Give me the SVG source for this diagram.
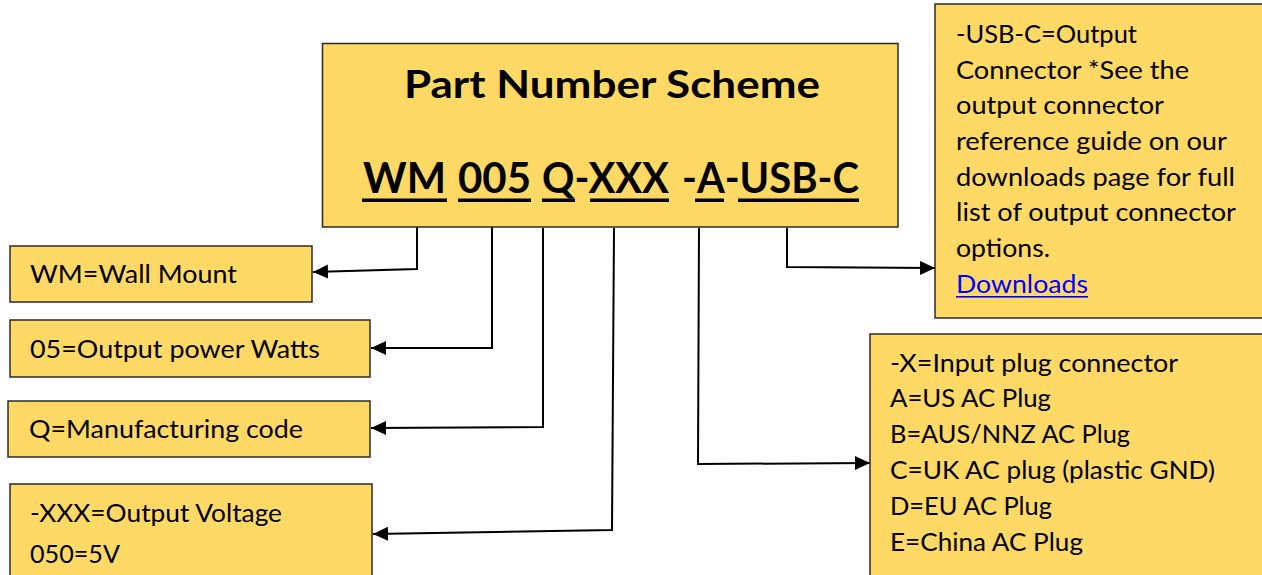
<svg xmlns="http://www.w3.org/2000/svg" width="1262" height="575" viewBox="0 0 1262 575">
<style>
.box{fill:#FFD966;stroke:#2b2b2b;stroke-width:1.5}
.t{font-family:Lato,"Liberation Sans",sans-serif;font-size:25px;fill:#000}
.h{font-family:Lato,"Liberation Sans",sans-serif;font-weight:bold;fill:#000}
.ul{fill:#000}
.conn{fill:none;stroke:#000;stroke-width:2}
</style>
<defs>
<marker id="ah" markerUnits="userSpaceOnUse" markerWidth="16" markerHeight="16" refX="15" refY="7" orient="auto">
<path d="M0,0 L15,7 L0,14 Z" fill="#000"/>
</marker>
</defs>
<rect width="1262" height="575" fill="#fff"/>
<g id="connectors">
<polyline class="conn" points="417,227 417,269 313,272" marker-end="url(#ah)"/>
<polyline class="conn" points="492,227 492,348 371,348" marker-end="url(#ah)"/>
<polyline class="conn" points="543,228 543,427 371,428" marker-end="url(#ah)"/>
<polyline class="conn" points="614,228 612,530 373,534" marker-end="url(#ah)"/>
<polyline class="conn" points="699,228 698,464 870,463" marker-end="url(#ah)"/>
<polyline class="conn" points="787,228 787,267 935,268" marker-end="url(#ah)"/>
</g>
<g id="main">
<rect class="box" x="322.5" y="43.5" width="575.5" height="183.5"/>
<text class="h" x="404" y="98" font-size="38" textLength="416" lengthAdjust="spacingAndGlyphs">Part Number Scheme</text>
<text class="h" x="363" y="193" font-size="42" textLength="83" lengthAdjust="spacingAndGlyphs">WM</text>
<text class="h" x="458" y="193" font-size="42" textLength="73" lengthAdjust="spacingAndGlyphs">005</text>
<text class="h" x="542" y="193" font-size="42" textLength="127" lengthAdjust="spacingAndGlyphs">Q-XXX</text>
<text class="h" x="682" y="193" font-size="42" textLength="177" lengthAdjust="spacingAndGlyphs">-A-USB-C</text>
<rect class="ul" x="362" y="198.5" width="85" height="3.5"/>
<rect class="ul" x="458" y="198.5" width="73" height="3.5"/>
<rect class="ul" x="542" y="198.5" width="33" height="3.5"/>
<rect class="ul" x="590" y="198.5" width="79" height="3.5"/>
<rect class="ul" x="695" y="198.5" width="29" height="3.5"/>
<rect class="ul" x="738" y="198.5" width="121" height="3.5"/>
</g>
<g id="wm">
<rect class="box" x="10" y="246" width="302" height="56"/>
<text class="t" x="30" y="283" textLength="207" lengthAdjust="spacingAndGlyphs">WM=Wall Mount</text>
</g>
<g id="watts">
<rect class="box" x="10" y="320" width="360" height="57"/>
<text class="t" x="30" y="358" textLength="290" lengthAdjust="spacingAndGlyphs">05=Output power Watts</text>
</g>
<g id="mfg">
<rect class="box" x="8" y="401" width="362" height="56"/>
<text class="t" x="29" y="438" textLength="274" lengthAdjust="spacingAndGlyphs">Q=Manufacturing code</text>
</g>
<g id="voltage">
<rect class="box" x="10" y="484" width="362" height="95"/>
<text class="t" x="30" y="522" textLength="252" lengthAdjust="spacingAndGlyphs">-XXX=Output Voltage</text>
<text class="t" x="30" y="563" textLength="90" lengthAdjust="spacingAndGlyphs">050=5V</text>
</g>
<g id="usbc">
<rect class="box" x="935" y="4" width="330" height="314"/>
<text class="t" x="956" y="43" textLength="181" lengthAdjust="spacingAndGlyphs">-USB-C=Output</text>
<text class="t" x="956" y="79" textLength="233" lengthAdjust="spacingAndGlyphs">Connector *See the</text>
<text class="t" x="956" y="114" textLength="208" lengthAdjust="spacingAndGlyphs">output connector</text>
<text class="t" x="956" y="150" textLength="271" lengthAdjust="spacingAndGlyphs">reference guide on our</text>
<text class="t" x="956" y="186" textLength="279" lengthAdjust="spacingAndGlyphs">downloads page for full</text>
<text class="t" x="956" y="221" textLength="280" lengthAdjust="spacingAndGlyphs">list of output connector</text>
<text class="t" x="956" y="257" textLength="94" lengthAdjust="spacingAndGlyphs">options.</text>
<text class="t" x="956" y="293" textLength="132" lengthAdjust="spacingAndGlyphs" style="fill:#0000FF">Downloads</text>
<rect x="956" y="296" width="132" height="1.6" fill="#0000FF"/>
</g>
<g id="plug">
<rect class="box" x="870" y="334" width="395" height="245"/>
<text class="t" x="890" y="372" textLength="288" lengthAdjust="spacingAndGlyphs">-X=Input plug connector</text>
<text class="t" x="890" y="407" textLength="161" lengthAdjust="spacingAndGlyphs">A=US AC Plug</text>
<text class="t" x="890" y="443" textLength="240" lengthAdjust="spacingAndGlyphs">B=AUS/NNZ AC Plug</text>
<text class="t" x="890" y="479" textLength="325" lengthAdjust="spacingAndGlyphs">C=UK AC plug (plastic GND)</text>
<text class="t" x="890" y="515" textLength="162" lengthAdjust="spacingAndGlyphs">D=EU AC Plug</text>
<text class="t" x="890" y="551" textLength="193" lengthAdjust="spacingAndGlyphs">E=China AC Plug</text>
</g>
</svg>
